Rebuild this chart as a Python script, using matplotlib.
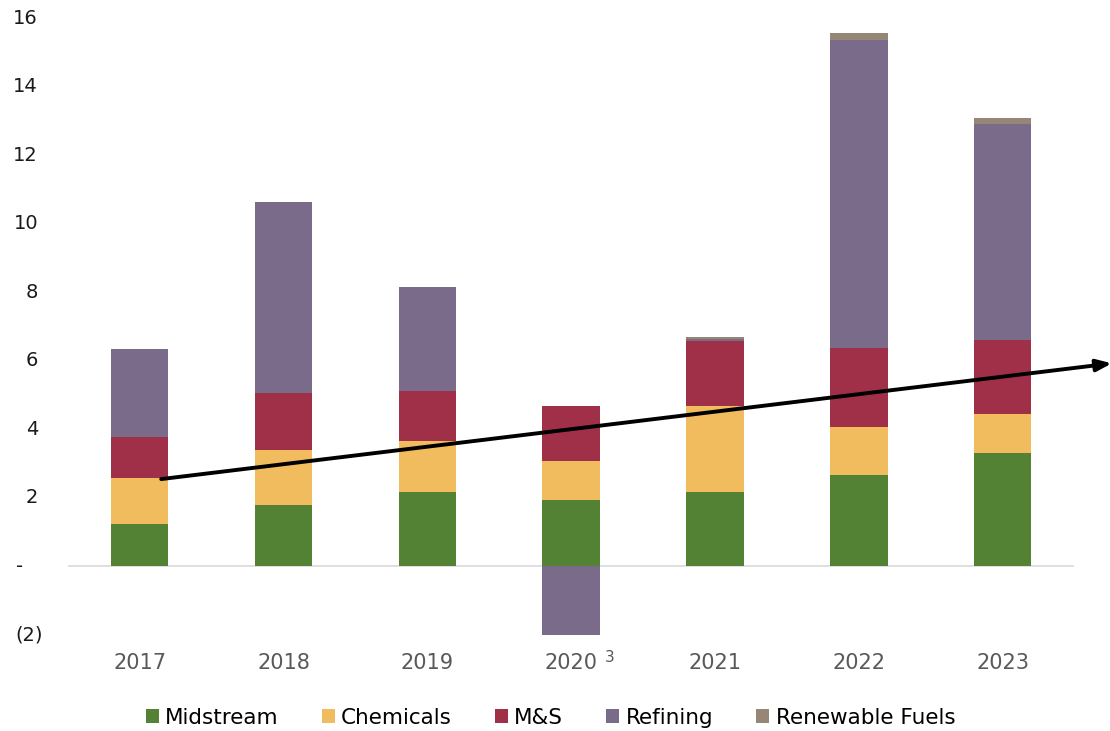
import numpy as np
import matplotlib
matplotlib.use('Agg')
import matplotlib.pyplot as plt
from matplotlib.transforms import blended_transform_factory

plt.rcParams['font.family'] = ['DejaVu Sans']

# data
years = ['2017', '2018', '2019', '2020', '2021', '2022', '2023']
footnote = '3'   # footnote marker on 2020
midstream = [1.23, 1.78, 2.16, 1.93, 2.16, 2.66, 3.30]
chemicals = [1.34, 1.61, 1.49, 1.14, 2.51, 1.40, 1.14]
ms = [1.20, 1.66, 1.46, 1.60, 1.90, 2.30, 2.16]
refining = [2.57, 5.58, 3.04, -2.04, 0.05, 9.00, 6.30]
renewable = [0.0, 0.0, 0.0, 0.0, 0.07, 0.20, 0.18]

series = [('Midstream', midstream, '#548235'),
          ('Chemicals', chemicals, '#F0BC5E'),
          ('M&S', ms, '#A03047'),
          ('Refining', refining, '#7B6B8B'),
          ('Renewable Fuels', renewable, '#968675')]

ytick_vals = [-2, 0, 2, 4, 6, 8, 10, 12, 14, 16]
ytick_labels = ['(2)', '-', '2', '4', '6', '8', '10', '12', '14', '16']

# trend arrow (data coords)
arrow_start = (0.15, 2.54)
arrow_end = (6.76, 5.92)

fig = plt.figure(figsize=(11.1, 7.31), dpi=100, facecolor='white')
ax = fig.add_axes([0.061, 0.132, 0.907, 0.843])

x = np.arange(len(years))
pos_base = np.zeros(len(years))
neg_base = np.zeros(len(years))
for name, vals, col in series:
    vals = np.array(vals)
    bottoms = np.where(vals >= 0, pos_base, neg_base)
    ax.bar(x, vals, 0.4, bottom=bottoms, color=col, label=name, zorder=2)
    pos_base += np.where(vals >= 0, vals, 0)
    neg_base += np.where(vals < 0, vals, 0)

ax.axhline(0, color='#D9D9D9', linewidth=1.2, zorder=1)

ax.set_xlim(-0.5, 6.5)
ax.set_ylim(-2, 16)
ax.set_xticks(x)
ax.set_xticklabels(years, fontsize=15, color='#595959')
ax.tick_params(axis='x', length=0, pad=13)
ax.set_yticks([])
for s in ax.spines.values():
    s.set_visible(False)

# footnote superscript next to 2020
ax.annotate(footnote, xy=(3, 0), xycoords=('data', 'axes fraction'),
            xytext=(24, -11.5), textcoords='offset points',
            ha='left', va='top', fontsize=11, color='#595959',
            annotation_clip=False)

# y labels (accounting style alignment)
trans = blended_transform_factory(fig.transFigure, ax.transData)
for v, lab in zip(ytick_vals, ytick_labels):
    if lab == '(2)':
        xr = 43 / 1110
    elif lab == '-':
        xr = 23 / 1110
    else:
        xr = 38 / 1110
    ax.text(xr, v, lab, transform=trans, ha='right', va='center',
            fontsize=14, color='#1a1a1a')

ax.annotate('', xy=arrow_end, xytext=arrow_start,
            arrowprops=dict(arrowstyle='-|>,head_length=0.9,head_width=0.35',
                            color='black', lw=2.8, shrinkA=0, shrinkB=0),
            annotation_clip=False, zorder=5)

handles, labels = ax.get_legend_handles_labels()
fig.legend(handles, labels, loc='center', bbox_to_anchor=(0.496, 0.018),
           ncol=5, frameon=False, fontsize=15.5, handlelength=0.6,
           handleheight=0.6, handletextpad=0.3, columnspacing=2.0,
           borderpad=0.2)

fig.savefig('out.png', dpi=100, facecolor='white')
